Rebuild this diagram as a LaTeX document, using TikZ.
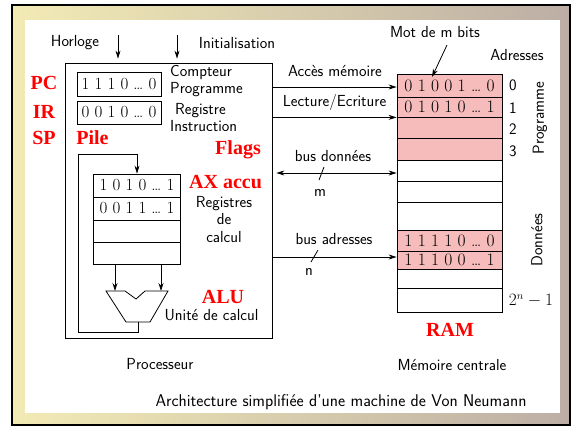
\documentclass[tikz,border=0pt]{standalone}
\usepackage{fontspec}
\newfontfamily\timesb{Liberation Serif}
\usetikzlibrary{arrows.meta}
\definecolor{bgl}{HTML}{F3EBB5}
\definecolor{bgr}{HTML}{BCAEA5}
\definecolor{ramred}{HTML}{F6BCBC}
\begin{document}
\begin{tikzpicture}[x=1pt,y=-1pt,
  lab/.style={font=\sffamily\fontsize{16}{17}\selectfont, inner sep=0pt},
  redlab/.style={font=\timesb\bfseries\fontsize{20}{22}\selectfont, text=red, inner sep=0pt},
  cell/.style={draw, line width=0.8pt, inner sep=0pt, minimum width=87pt, font=\rmfamily\fontsize{17}{18}\selectfont},
  ramcell/.style={draw, line width=0.8pt, inner sep=0pt, minimum width=105pt, font=\rmfamily\fontsize{17.5}{18}\selectfont},
  arr/.style={-{Stealth[length=8pt,width=5pt]}, line width=0.8pt},
  darr/.style={{Stealth[length=8pt,width=5pt]}-{Stealth[length=8pt,width=5pt]}, line width=0.8pt},
  ln/.style={line width=0.8pt}]
% background
\fill[white] (0,0) rectangle (573,426);
\shade[left color=bgl, right color=bgr] (12,5) rectangle (570,425);
\draw[line width=2pt] (12,5) rectangle (570,425);
\fill[white] (25,20) rectangle (560,413);

% processor
\node[draw, line width=0.8pt, minimum width=207pt, minimum height=275pt, inner sep=0pt] (proc) at (168.5,200.5) {};
\node[cell, minimum width=84pt, minimum height=24pt] (pc) at (119,84) {1 1 1 0 {\ldots} 0};
\node[cell, minimum width=84pt, minimum height=23pt] (ir) at (119,112.5) {0 0 1 0 {\ldots} 0};
\node[lab, anchor=west, align=left] (cp) at (170,81) {Compteur\\Programme};
\node[lab, anchor=west, align=left] (ri) at (170,117.5) {\ Registre\\Instruction};

\node[redlab] (pcl) at (44,83) {PC};
\node[redlab] (irl) at (44,112) {IR};
\node[redlab] (spl) at (44,138) {SP};
\node[redlab] (pile) at (92.5,138) {Pile};
\node[redlab] (flags) at (238,150) {Flags};
\node[redlab] (ax) at (225.5,182) {AX accu};
\node[redlab] (alul) at (223,297) {ALU};

\node[cell, minimum height=23pt] (s0) at (137,185.5) {1 0 1 0 {\ldots} 1};
\node[cell, minimum height=23pt] (s1) at (137,208.5) {0 0 1 1 {\ldots} 1};
\node[cell, minimum height=22pt] (s2) at (137,231) {};
\node[cell, minimum height=22pt] (s3) at (137,253) {};
\node[lab, align=center] (rc) at (224,219.5) {Registres\\[0.5pt]de\\[0.5pt]calcul};

% ALU
\draw[ln] (106,291) -- (125,291) -- (136,299) -- (145,291) -- (168,291) -- (150,322) -- (126,322) -- cycle;
\coordinate (ain1) at (115,291);
\coordinate (ain2) at (161,291);
\coordinate (aout) at (138,322);
\draw[arr] (s3.south -| ain1) -- (ain1);
\draw[arr] (s3.south -| ain2) -- (ain2);
\draw[arr] (aout) -- ++(0,10) -| (78,154) -| (s0.north);
\node[lab] (uc) at (211.5,315) {Unit\'e de calcul};

% inputs
\node[lab] (horl) at (75,43) {Horloge};
\node[lab] (init) at (237,43) {Initialisation};
\coordinate (clk) at (118,35);
\coordinate (ini) at (177,35);
\draw[arr, shorten >=4pt] (clk) -- (clk |- proc.north);
\draw[arr, shorten >=4pt] (ini) -- (ini |- proc.north);

\node[lab] (procl) at (160,364) {Processeur};
\node[lab, font=\sffamily\fontsize{17}{18}\selectfont] (title) at (341,402) {Architecture simplifi\'ee d'une machine de Von Neumann};

% RAM
\node[ramcell, fill=ramred, minimum height=23pt] (r0) at (449.5,85.5) {0 1 0 0 1 {\ldots} 0};
\node[ramcell, fill=ramred, minimum height=20pt] (r1) at (449.5,107) {0 1 0 1 0 {\ldots} 1};
\node[ramcell, fill=ramred, minimum height=21pt] (r2) at (449.5,127.5) {};
\node[ramcell, fill=ramred, minimum height=22pt] (r3) at (449.5,149) {};
\node[ramcell, minimum height=21pt] (r4) at (449.5,170.5) {};
\node[ramcell, minimum height=21pt] (r5) at (449.5,191.5) {};
\node[ramcell, minimum height=28pt] (r6) at (449.5,216) {};
\node[ramcell, fill=ramred, minimum height=21pt] (r7) at (449.5,240.5) {1 1 1 1 0 {\ldots} 0};
\node[ramcell, fill=ramred, minimum height=18pt] (r8) at (449.5,260) {1 1 1 0 0 {\ldots} 1};
\node[ramcell, minimum height=19pt] (r9) at (449.5,278.5) {};
\node[ramcell, minimum height=24pt] (r10) at (449.5,300) {};
\draw[line width=1.3pt] (r3.south west) -- (r3.south east);

\node[lab] (a0) at (513,85) {0};
\node[lab] (a1) at (513,108) {1};
\node[lab] (a2) at (513,129) {2};
\node[lab] (a3) at (513,151) {3};
\node[lab] (an) at (531,301) {$2^n-1$};
\node[lab] (adr) at (517,55) {Adresses};
\node[lab, rotate=90] (progl) at (540,118) {Programme};
\node[lab, rotate=90] (donl) at (537,240) {Donn\'ees};
\node[lab] (mot) at (435,32) {Mot de m bits};
\coordinate (motst) at (447,45);
\coordinate (motend) at (432,77);
\draw[arr] (motst) -- (motend);
\node[redlab] (raml) at (450,330) {RAM};
\node[lab] (memc) at (452,365) {M\'emoire centrale};

% buses
\path (r0.west) ++(0,1.5) coordinate (am);
\path (r4.west) ++(0,2.5) coordinate (bd);
\path (r8.west) ++(0,-3) coordinate (ba);
\draw[arr] (proc.east |- am) -- (am);
\draw[arr] (proc.east |- r1.south west) -- (r1.south west);
\draw[darr, shorten <=4pt] (proc.east |- bd) -- (bd);
\draw[arr] (proc.east |- ba) -- (ba);
\node[lab] (acl) at (335,71) {Acc\`es m\'emoire};
\node[lab] (lel) at (334.5,102) {Lecture/Ecriture};
\node[lab] (bdl) at (333,156) {bus donn\'ees};
\node[lab] (bal) at (334,239) {bus adresses};
\node[lab] (ml) at (320,193) {m};
\node[lab] (nl) at (309,272) {n};
\draw[ln] (319,180) -- (324,167);
\draw[ln] (311,262) -- (318,250);
\end{tikzpicture}
\end{document}
